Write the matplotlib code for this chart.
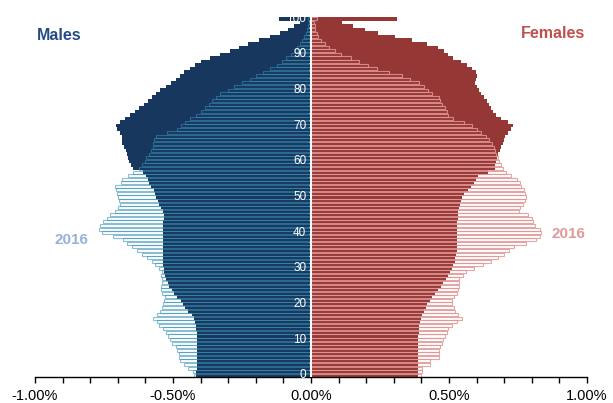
import numpy as np
import matplotlib
matplotlib.use("Agg")
import matplotlib.pyplot as plt
from matplotlib.ticker import MultipleLocator, FixedLocator

plt.rcParams['font.family'] = ['Liberation Sans', 'DejaVu Sans']

ages = np.arange(0, 101)

# Share of total population (%) by single year of age
male_2016 = [0.423, 0.426, 0.444, 0.459, 0.475, 0.478, 0.478, 0.487, 0.489, 0.502,
             0.511, 0.517, 0.525, 0.535, 0.550, 0.557, 0.571, 0.559, 0.547, 0.541,
             0.535, 0.531, 0.529, 0.539, 0.545, 0.545, 0.541, 0.541, 0.543, 0.541,
             0.550, 0.565, 0.577, 0.595, 0.614, 0.632, 0.650, 0.668, 0.680, 0.719,
             0.758, 0.768, 0.764, 0.752, 0.740, 0.728, 0.710, 0.698, 0.692, 0.694,
             0.698, 0.704, 0.707, 0.710, 0.690, 0.686, 0.662, 0.644, 0.625, 0.612,
             0.603, 0.597, 0.588, 0.580, 0.574, 0.571, 0.569, 0.560, 0.520, 0.485,
             0.470, 0.458, 0.440, 0.418, 0.400, 0.385, 0.370, 0.358, 0.345, 0.328,
             0.302, 0.280, 0.250, 0.222, 0.200, 0.175, 0.150, 0.125, 0.105, 0.090,
             0.074, 0.062, 0.050, 0.040, 0.032, 0.025, 0.019, 0.014, 0.010, 0.007,
             0.010]

male_proj = [0.418, 0.416, 0.414, 0.413, 0.413, 0.413, 0.412, 0.412, 0.412, 0.412,
             0.412, 0.412, 0.413, 0.415, 0.418, 0.420, 0.425, 0.432, 0.445, 0.455,
             0.462, 0.470, 0.485, 0.495, 0.505, 0.513, 0.518, 0.524, 0.528, 0.532,
             0.534, 0.535, 0.536, 0.537, 0.537, 0.537, 0.537, 0.537, 0.537, 0.536,
             0.536, 0.536, 0.535, 0.535, 0.533, 0.532, 0.535, 0.542, 0.550, 0.555,
             0.560, 0.565, 0.570, 0.578, 0.586, 0.592, 0.598, 0.610, 0.645, 0.652,
             0.658, 0.662, 0.667, 0.672, 0.678, 0.683, 0.684, 0.686, 0.692, 0.703,
             0.706, 0.692, 0.674, 0.656, 0.638, 0.622, 0.605, 0.590, 0.576, 0.562,
             0.547, 0.525, 0.508, 0.490, 0.475, 0.460, 0.440, 0.420, 0.398, 0.365,
             0.330, 0.295, 0.262, 0.228, 0.190, 0.150, 0.112, 0.082, 0.062, 0.040,
             0.115]

female_2016 = [0.400, 0.401, 0.403, 0.431, 0.431, 0.464, 0.464, 0.465, 0.467, 0.473,
               0.479, 0.486, 0.492, 0.498, 0.510, 0.530, 0.546, 0.534, 0.522, 0.519,
               0.510, 0.510, 0.518, 0.528, 0.534, 0.537, 0.536, 0.536, 0.552, 0.561,
               0.592, 0.622, 0.652, 0.679, 0.699, 0.717, 0.735, 0.779, 0.815, 0.830,
               0.832, 0.830, 0.812, 0.806, 0.800, 0.785, 0.755, 0.758, 0.769, 0.775,
               0.779, 0.775, 0.770, 0.762, 0.757, 0.745, 0.725, 0.708, 0.697, 0.688,
               0.680, 0.676, 0.672, 0.668, 0.662, 0.655, 0.645, 0.635, 0.615, 0.600,
               0.585, 0.555, 0.515, 0.495, 0.492, 0.487, 0.476, 0.468, 0.462, 0.440,
               0.425, 0.408, 0.390, 0.360, 0.330, 0.282, 0.240, 0.208, 0.175, 0.145,
               0.110, 0.088, 0.065, 0.050, 0.037, 0.027, 0.020, 0.016, 0.013, 0.011,
               0.021]

female_proj = [0.389, 0.389, 0.389, 0.389, 0.389, 0.389, 0.389, 0.389, 0.389, 0.389,
               0.389, 0.389, 0.390, 0.391, 0.393, 0.395, 0.398, 0.402, 0.408, 0.415,
               0.422, 0.430, 0.440, 0.450, 0.460, 0.470, 0.480, 0.490, 0.498, 0.505,
               0.511, 0.516, 0.520, 0.523, 0.526, 0.528, 0.529, 0.529, 0.529, 0.529,
               0.529, 0.529, 0.529, 0.530, 0.531, 0.532, 0.534, 0.537, 0.540, 0.543,
               0.548, 0.555, 0.568, 0.580, 0.592, 0.598, 0.605, 0.640, 0.665, 0.668,
               0.670, 0.673, 0.676, 0.685, 0.690, 0.696, 0.698, 0.702, 0.712, 0.725,
               0.733, 0.712, 0.690, 0.672, 0.660, 0.652, 0.645, 0.636, 0.626, 0.615,
               0.608, 0.600, 0.594, 0.597, 0.600, 0.598, 0.585, 0.565, 0.545, 0.515,
               0.495, 0.482, 0.460, 0.420, 0.366, 0.304, 0.243, 0.196, 0.153, 0.111,
               0.310]

x_ticks = [-1.0, -0.5, 0.0, 0.5, 1.0]
x_tick_labels = ['-1.00%', '-0.50%', '0.00%', '0.50%', '1.00%']
age_labels = list(range(0, 101, 10))

DARK_BLUE = '#17375E'
DARK_RED = '#953735'
EDGE_BLUE = (57 / 255, 143 / 255, 179 / 255, 0.58)
EDGE_RED = (226 / 255, 150 / 255, 150 / 255, 0.85)

W, H = 613, 403
fig = plt.figure(figsize=(W / 100, H / 100), dpi=100)
ax = fig.add_axes([35 / W, 1 - 377 / H, 552 / W, 360 / H])

m16 = -np.array(male_2016)
mp = -np.array(male_proj)
f16 = np.array(female_2016)
fp = np.array(female_proj)

ax.barh(ages, mp, height=1.0, color=DARK_BLUE, linewidth=0, zorder=1)
ax.barh(ages, fp, height=1.0, color=DARK_RED, linewidth=0, zorder=1)
ax.barh(ages, m16, height=0.85, facecolor='none', edgecolor=EDGE_BLUE,
        linewidth=0.8, zorder=2)
ax.barh(ages, f16, height=0.85, facecolor='none', edgecolor=EDGE_RED,
        linewidth=0.8, zorder=2)

ax.axvline(0, color='white', lw=1.4, zorder=3)
ax.hlines(ages[::2] - 0.5, -0.008, 0, color='white', lw=0.8, zorder=3)

for a in age_labels:
    ax.text(-0.017, a, str(a), color='white', ha='right', va='center',
            fontsize=8.5, zorder=4)

ax.set_xlim(-1, 1)
ax.set_ylim(-0.5, 100.5)
ax.xaxis.set_major_locator(FixedLocator(x_ticks))
ax.set_xticklabels(x_tick_labels, fontsize=10.5)
ax.xaxis.set_minor_locator(MultipleLocator(0.1))
ax.tick_params(axis='x', which='both', direction='out', length=4, width=1,
               color='black', pad=5)
ax.set_yticks([])
for s in ['left', 'right', 'top']:
    ax.spines[s].set_visible(False)
ax.spines['bottom'].set_color('black')
ax.spines['bottom'].set_linewidth(1)

fig.text(59 / W, 1 - 35.5 / H, 'Males', ha='center', va='center', fontsize=11.5,
         fontweight='bold', color='#244C82')
fig.text(553 / W, 1 - 34 / H, 'Females', ha='center', va='center', fontsize=11.5,
         fontweight='bold', color='#C0504D')
fig.text(71 / W, 1 - 240.5 / H, '2016', ha='center', va='center', fontsize=11,
         fontweight='bold', color='#95B3D7')
fig.text(568 / W, 1 - 234 / H, '2016', ha='center', va='center', fontsize=11,
         fontweight='bold', color='#DE9A98')

fig.savefig('out.png', dpi=100)
